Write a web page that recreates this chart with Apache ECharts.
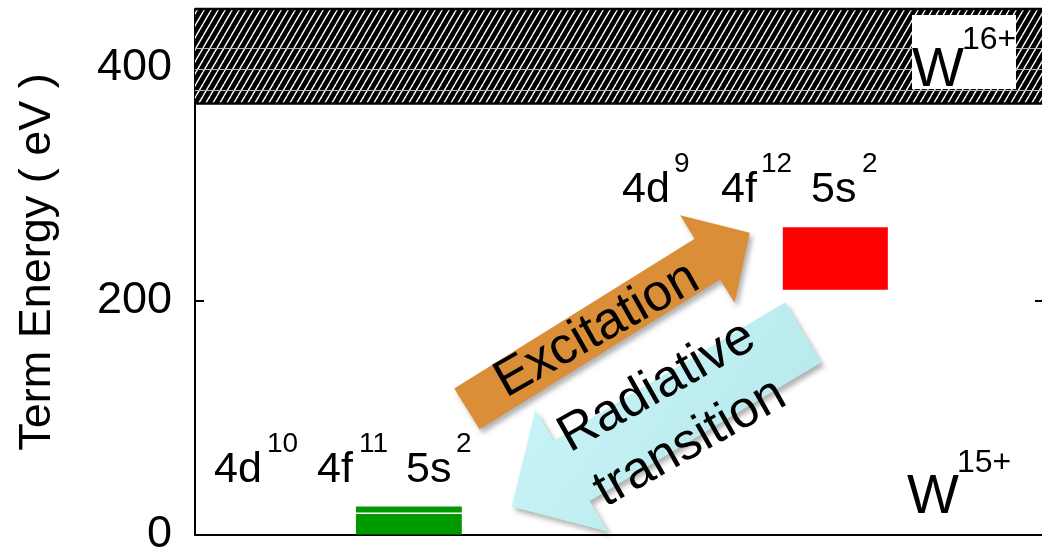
<!DOCTYPE html>
<html><head><meta charset="utf-8">
<script src="https://cdn.jsdelivr.net/npm/echarts@6/dist/echarts.min.js"></script>
<style>html,body{margin:0;padding:0;background:#fff}#c{width:1042px;height:557px}</style>
</head><body><div id="c"></div>
<script>
// ---- data (eV on y, arbitrary horizontal position on x) ----
const yTicks = [0, 200, 400];
const yRange = [0, 450];
const xRange = [0, 10];
const continuumBand = [[0, 10, 369, 450]];          // W16+ region: x0,x1,y0,y1
const continuumLines = [381, 399, 417];
const groundLevels = [[1.90, 3.15, 0, 17.6], [1.90, 3.15, 18.9, 24]];
const excitedLevel = [[6.94, 8.18, 209.5, 263]];
const excitationArrow = [[3.21, 107.6, 6.55, 258.5]]; // tail x,y -> tip x,y
const radiativeArrow = [[7.18, 173.1, 3.74, 23.7]];

const FONT = "'Liberation Sans', Arial, sans-serif";

function hatchCanvas() {
  const w = 7, h = 12;
  const c = document.createElement('canvas');
  c.width = w; c.height = h;
  const g = c.getContext('2d');
  g.fillStyle = '#000'; g.fillRect(0, 0, w, h);
  g.strokeStyle = '#fff'; g.lineWidth = 1.4;
  for (const dx of [-w, 0, w]) {
    g.beginPath(); g.moveTo(dx, h); g.lineTo(dx + w, 0); g.stroke();
  }
  return c;
}
const hatch = hatchCanvas();

function rectItem(color) {
  return function (params, api) {
    const a = api.coord([api.value(0), api.value(3)]);
    const b = api.coord([api.value(1), api.value(2)]);
    return { type: 'rect', shape: { x: a[0], y: a[1], width: b[0] - a[0], height: b[1] - a[1] },
      style: { fill: color } };
  };
}

function arrowItem(opts) {
  return function (params, api) {
    const T = api.coord([api.value(0), api.value(1)]);
    const P = api.coord([api.value(2), api.value(3)]);
    const dx = P[0] - T[0], dy = P[1] - T[1];
    const L = Math.hypot(dx, dy);
    const d = [dx / L, dy / L], n = [-d[1], d[0]];
    const B = [P[0] - d[0] * opts.hl, P[1] - d[1] * opts.hl];
    const pt = (o, k) => [o[0] + n[0] * k, o[1] + n[1] * k];
    const pts = [pt(T, opts.sw / 2), pt(B, opts.sw / 2), pt(B, opts.hw / 2), P,
                 pt(B, -opts.hw / 2), pt(B, -opts.sw / 2), pt(T, -opts.sw / 2)];
    return { type: 'polygon', shape: { points: pts },
      style: { fill: opts.fill, shadowBlur: 5, shadowOffsetX: 3, shadowOffsetY: 4,
               shadowColor: 'rgba(0,0,0,0.3)' } };
  };
}

const chart = echarts.init(document.getElementById('c'), null, { renderer: 'canvas' });

function txt(text, x, y, size, extra) {
  return Object.assign({ type: 'text', x: x, y: y, z: 100,
    style: { text: text, font: size + 'px ' + FONT, fill: '#000', align: 'left', verticalAlign: 'middle' } }, extra || {});
}
// baseline -> middle: y = baseline - 0.31*size
function base(text, x, baseline, size) { return txt(text, x, baseline - 0.31 * size, size); }

const arrowText = (text, x, y) => ({ type: 'text', x: x, y: y, rotation: 29.5 * Math.PI / 180, z: 100,
  style: { text: text, font: '52px ' + FONT, fill: '#000', align: 'center', verticalAlign: 'middle',
    shadowColor: 'rgba(0,0,0,0.3)', shadowBlur: 2, shadowOffsetX: 2, shadowOffsetY: 2 } });

chart.setOption({
  animation: false,
  backgroundColor: '#fff',
  grid: { left: 195, right: 0, top: 9, bottom: 21 },
  xAxis: { type: 'value', min: xRange[0], max: xRange[1],
    axisLine: { show: true, onZero: false, lineStyle: { color: '#000', width: 2 } },
    axisTick: { show: false }, axisLabel: { show: false }, splitLine: { show: false } },
  yAxis: [
    { type: 'value', min: yRange[0], max: yRange[1], position: 'left',
      axisLine: { show: true, lineStyle: { color: '#000', width: 2 } },
      axisTick: { show: true, inside: true, length: 9, customValues: yTicks, lineStyle: { color: '#000', width: 2 } },
      axisLabel: { customValues: yTicks, fontSize: 45, fontFamily: FONT, color: '#000', margin: 23 },
      splitLine: { show: false } },
    { type: 'value', min: yRange[0], max: yRange[1], position: 'right',
      axisLine: { show: false },
      axisTick: { show: true, inside: true, length: 7, customValues: yTicks, lineStyle: { color: '#000', width: 2 } },
      axisLabel: { show: false }, splitLine: { show: false } }
  ],
  series: [
    { type: 'custom', data: continuumBand, z: 1, silent: true,
      renderItem: function (params, api) {
        const a = api.coord([api.value(0), api.value(3)]);
        const b = api.coord([api.value(1), api.value(2)]);
        const children = [{ type: 'rect', shape: { x: a[0], y: a[1], width: b[0] - a[0], height: b[1] - a[1] },
          style: { fill: { image: hatch, repeat: 'repeat' } } }];
        continuumLines.forEach(v => {
          const y = Math.round(api.coord([0, v])[1]) + 0.5;
          children.push({ type: 'line', shape: { x1: a[0], y1: y, x2: b[0], y2: y },
            style: { stroke: '#b8b8b8', lineWidth: 1 } });
        });
        [a[1], b[1]].forEach(y => children.push({ type: 'line', shape: { x1: a[0], y1: y, x2: b[0], y2: y },
          style: { stroke: '#000', lineWidth: 2.5 } }));
        return { type: 'group', children: children };
      } },
    { type: 'custom', data: groundLevels, z: 3, renderItem: rectItem('#009900') },
    { type: 'custom', data: excitedLevel, z: 3, renderItem: rectItem('#ff0000') },
    { type: 'custom', data: radiativeArrow, z: 4,
      renderItem: arrowItem({ sw: 70, hw: 142, hl: 70,
        fill: { type: 'linear', x: 0, y: 0, x2: 1, y2: 1, colorStops: [
          { offset: 0, color: '#cdf7fa' }, { offset: 1, color: '#b2e5e9' }] } }) },
    { type: 'custom', data: excitationArrow, z: 4,
      renderItem: arrowItem({ sw: 48, hw: 103, hl: 50, fill: '#da8e37' }) }
  ],
  graphic: [
    { type: 'text', x: 38, y: 262, rotation: Math.PI / 2, z: 100,
      style: { text: 'Term Energy ( eV )', font: '45px ' + FONT, fill: '#000', align: 'center', verticalAlign: 'middle' } },
    // ground configuration
    base('4d', 214, 483, 43), base('10', 267, 453, 28),
    base('4f', 317, 483, 43), base('11', 359, 453, 28),
    base('5s', 406, 483, 43), base('2', 456, 453, 28),
    // excited configuration
    base('4d', 622, 203, 43), base('9', 674, 173, 28),
    base('4f', 721, 203, 43), base('12', 761, 173, 28),
    base('5s', 811, 203, 43), base('2', 862, 173, 28),
    // ion stage labels
    { type: 'rect', z: 99, shape: { x: 912, y: 15, width: 104, height: 74 }, style: { fill: '#fff' } },
    base('W', 912, 88, 55), base('16+', 962, 50, 32),
    base('W', 907, 515, 55), base('15+', 957, 473, 32),
    arrowText('Excitation', 597, 330),
    arrowText('Radiative', 657, 387),
    arrowText('transition', 690, 443)
  ]
});
</script></body></html>
